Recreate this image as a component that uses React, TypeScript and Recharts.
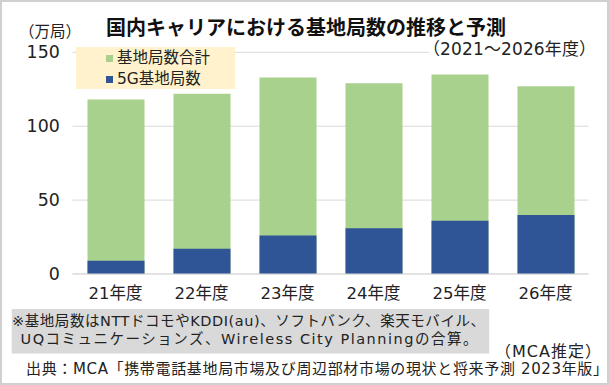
import React from 'react';
import { BarChart, Bar, XAxis, YAxis, CartesianGrid, Legend } from 'recharts';

const categories = ['21年度', '22年度', '23年度', '24年度', '25年度', '26年度'];
const totalStations = [118, 122, 133, 129, 135, 127];
const fiveGStations = [9, 17, 26, 31, 36, 40];
const yTicks = [0, 50, 100, 150];
const seriesNames = ['基地局数合計', '5G基地局数'];

const data = categories.map((c, i) => ({ name: c, total: totalStations[i], g5: fiveGStations[i] }));

const CJK = "'Noto Sans CJK JP', 'Noto Sans', sans-serif";
const FONT = "'DejaVu Sans', 'Noto Sans CJK JP', sans-serif";
const TEXT = '#222222';

const LegendBox = (props: any) => {
  const payload = [...(props.payload || [])].sort(
    (a: any, b: any) => seriesNames.indexOf(a.value) - seriesNames.indexOf(b.value)
  );
  return (
    <div style={{ width: 159, height: 42.6, background: '#fff2cc', position: 'relative', fontFamily: FONT }}>
      {payload.map((p: any, i: number) => (
        <div
          key={i}
          style={{ position: 'absolute', left: 30, top: i === 0 ? 1 : 22, height: 21, display: 'flex', alignItems: 'center' }}
        >
          <span style={{ display: 'inline-block', width: 7, height: 7, background: p.color, marginRight: 4 }} />
          <span style={{ fontSize: 15.5, color: TEXT, lineHeight: '21px', whiteSpace: 'nowrap' }}>{p.value}</span>
        </div>
      ))}
    </div>
  );
};

export default function App() {
  return (
    <div style={{ position: 'absolute', left: 0, top: 0, width: 609, height: 385, background: '#fff' }}>
      <BarChart
        width={609}
        height={385}
        data={data}
        margin={{ top: 52.3, right: 20.5, left: 0, bottom: 81 }}
        style={{ fontFamily: FONT }}
      >
        <CartesianGrid vertical={false} stroke="#d9d9d9" />
        <XAxis
          xAxisId="a"
          dataKey="name"
          height={30}
          tickLine={false}
          tickSize={0}
          tickMargin={13.5}
          axisLine={{ stroke: '#d9d9d9' }}
          tick={{ fontSize: 16.5, fill: TEXT, fontFamily: FONT }}
          interval={0}
        />
        <XAxis xAxisId="b" dataKey="name" hide />
        <YAxis
          width={72.5}
          domain={[0, 150]}
          ticks={yTicks}
          axisLine={false}
          tickLine={false}
          tickSize={0}
          tickMargin={12.7}
          tick={{ fontSize: 17.4, fill: TEXT, fontFamily: FONT }}
        />
        <Legend
          layout="vertical"
          align="center"
          verticalAlign="middle"
          content={LegendBox}
          wrapperStyle={{ left: 76, top: 46.7, width: 159, height: 42.6 }}
        />
        <Bar xAxisId="a" dataKey="total" name={seriesNames[0]} fill="#a9d18e" barSize={57} isAnimationActive={false} />
        <Bar xAxisId="b" dataKey="g5" name={seriesNames[1]} fill="#2f5597" barSize={57} isAnimationActive={false} />
      </BarChart>
      <svg
        width={609}
        height={385}
        style={{ position: 'absolute', left: 0, top: 0, pointerEvents: 'none', fontFamily: FONT }}
      >
        <rect x={1} y={1} width={607} height={383} fill="none" stroke="#d0d0d0" strokeWidth={2} />
        <text x={106} y={35} fontSize={20} fontWeight={700} fill="#111" fontFamily={CJK}>
          国内キャリアにおける基地局数の推移と予測
        </text>
        <text x={19} y={36.5} fontSize={15.5} fill={TEXT} fontFamily={CJK}>（万局）</text>
        <rect x={429} y={40} width={162} height={18} fill="#fff" />
        <text x={423} y={55} fontSize={17} fill={TEXT} textLength={173} lengthAdjust="spacing">
          （2021～2026年度）
        </text>
        <rect x={11.7} y={309} width={477.5} height={44.5} fill="#d9d9d9" />
        <text x={12} y={325.5} fontSize={14.5} fill={TEXT} textLength={473} lengthAdjust="spacing">
          ※基地局数はNTTドコモやKDDI(au)、ソフトバンク、楽天モバイル、
        </text>
        <text x={20.5} y={343.5} fontSize={14.5} fill={TEXT} textLength={457} lengthAdjust="spacing">
          UQコミュニケーションズ、Wireless City Planningの合算。
        </text>
        <text x={495} y={357} fontSize={16} fill={TEXT} textLength={106} lengthAdjust="spacing">
          （MCA推定）
        </text>
        <text x={26} y={374} fontSize={15} fill={TEXT} textLength={582} lengthAdjust="spacing">
          出典：MCA「携帯電話基地局市場及び周辺部材市場の現状と将来予測 2023年版」
        </text>
      </svg>
    </div>
  );
}
